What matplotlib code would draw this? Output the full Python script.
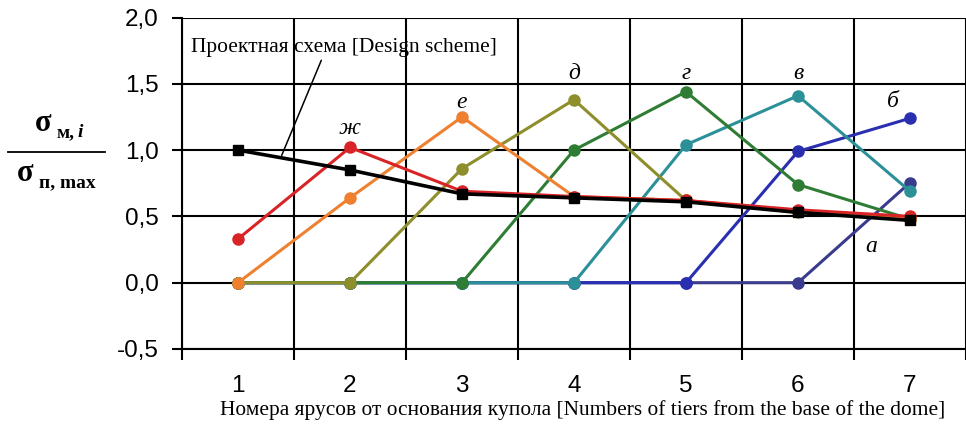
import matplotlib

matplotlib.use("Agg")
import matplotlib.pyplot as plt
from matplotlib.lines import Line2D

tiers = [1, 2, 3, 4, 5, 6, 7]

# relative stresses for each loading case (а ... ж) and the design scheme
zh = [0.33, 1.02, 0.69, 0.65, 0.62, 0.55, 0.50]
ye = [0.00, 0.64, 1.25, 0.65, 0.62, 0.54, 0.48]
de = [0.00, 0.00, 0.86, 1.38, 0.62, 0.53, 0.48]
ge = [0.00, 0.00, 0.00, 1.00, 1.44, 0.74, 0.48]
ve = [0.00, 0.00, 0.00, 0.00, 1.04, 1.41, 0.69]
be = [0.00, 0.00, 0.00, 0.00, 0.00, 0.99, 1.24]
a = [0.00, 0.00, 0.00, 0.00, 0.00, 0.00, 0.755]
design = [1.00, 0.85, 0.67, 0.64, 0.61, 0.53, 0.47]

series = [
    ("а", a, "#3b3b8e", (6.65, 0.27)),
    ("б", be, "#2a2fb0", (6.85, 1.37)),
    ("в", ve, "#2b9098", (6.0, 1.58)),
    ("г", ge, "#2f7d34", (5.0, 1.58)),
    ("д", de, "#8e8e2c", (4.0, 1.58)),
    ("е", ye, "#ef8030", (3.0, 1.36)),
    ("ж", zh, "#d92427", (2.0, 1.16)),
]

y_ticks = [-0.5, 0.0, 0.5, 1.0, 1.5, 2.0]
y_labels = ["-0,5", "0,0", "0,5", "1,0", "1,5", "2,0"]

step = 113.3  # pixels per tier
fig = plt.figure(figsize=(9.66, 4.30), dpi=100)
ax = fig.add_axes([182 / 966, 81 / 430, 784 / 966, 331.5 / 430])

for name, vals, col, pos in series:
    ax.plot(tiers, vals, color=col, lw=2.2, marker="o", ms=8, mec=col, mfc=col, zorder=3)
    ax.text(pos[0], pos[1], name, fontsize=17, family="Liberation Serif",
            style="italic", ha="center", va="center")

ax.plot(tiers, design, color="black", lw=2.6, marker="s", ms=7.5, zorder=4)

ax.annotate("Проектная схема [Design scheme]", xy=(1.39, 0.96), xytext=(0.58, 1.77),
            fontsize=15.5, family="Liberation Serif", ha="left", va="center",
            arrowprops=dict(arrowstyle="-", color="black", lw=1.1,
                            shrinkA=0, shrinkB=0,
                            relpos=(0.43, 0.0)))

ax.set_xlim(0.5, 0.5 + 784 / step)
ax.set_ylim(-0.5, 2.0)

ax.set_xticks(tiers)
ax.set_xticklabels([str(t) for t in tiers], fontsize=17.5, family="Liberation Sans")
ax.set_xticks([t + 0.5 for t in range(0, 8)], minor=True)
ax.tick_params(axis="x", which="major", length=0, pad=19)
ax.tick_params(axis="x", which="minor", length=8, width=1.5, direction="out")
ax.set_yticks(y_ticks)
ax.set_yticklabels(y_labels, fontsize=17.5, family="Liberation Sans")
ax.tick_params(axis="y", length=7, width=1.5, direction="out", pad=10)

ax.grid(True, which="minor", axis="x", color="black", lw=1.5)
ax.grid(True, which="major", axis="y", color="black", lw=1.5)
for side in ["top", "right"]:
    ax.spines[side].set_visible(False)
for side in ["left", "bottom"]:
    ax.spines[side].set_linewidth(1.5)

ax.set_xlabel("Номера ярусов от основания купола [Numbers of tiers from the base of the dome]",
              fontsize=15.4, family="Liberation Serif", labelpad=2)
ax.xaxis.label.set_x(0.511)

# ratio label on the left: sigma_m,i / sigma_p,max
fig.add_artist(Line2D([8 / 966, 105 / 966], [1 - 152 / 430, 1 - 152 / 430],
                      color="black", lw=1.3))
fig.text(35 / 966, 1 - 131 / 430, "σ", fontsize=22, family="Liberation Serif",
         weight="bold", ha="left", va="baseline")
fig.text(57 / 966, 1 - 137 / 430, "м,", fontsize=14, family="Liberation Serif",
         weight="bold", ha="left", va="baseline")
fig.text(78 / 966, 1 - 137 / 430, "i", fontsize=14, family="Liberation Serif",
         weight="bold", style="italic", ha="left", va="baseline")
fig.text(17 / 966, 1 - 181 / 430, "σ", fontsize=22, family="Liberation Serif",
         weight="bold", ha="left", va="baseline")
fig.text(39 / 966, 1 - 187 / 430, "п, max", fontsize=14, family="Liberation Serif",
         weight="bold", ha="left", va="baseline")

fig.savefig("out.png", dpi=100)
